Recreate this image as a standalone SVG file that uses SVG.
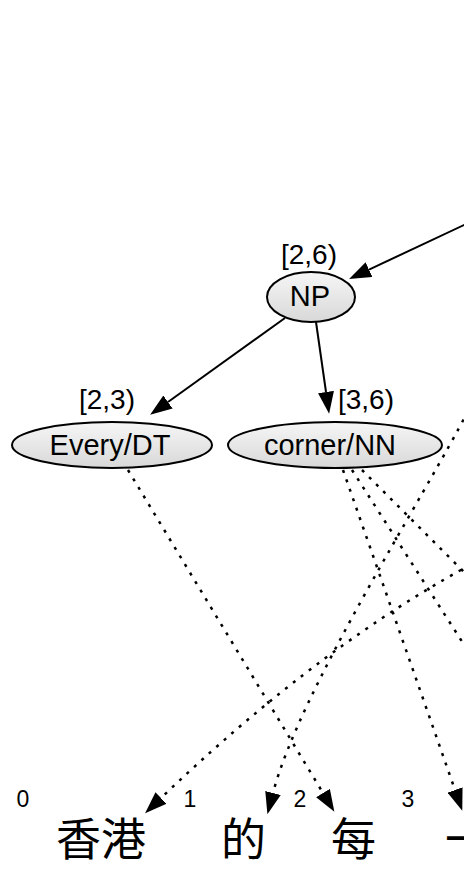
<svg xmlns="http://www.w3.org/2000/svg" width="464" height="869" viewBox="0 0 464 869">
<style>
.node ellipse{fill:url(#g);stroke:#000;stroke-width:2}
.nt{font-family:"Liberation Sans",Arial,sans-serif;font-size:29px;fill:#000;text-anchor:middle}
.lb{font-family:"Liberation Sans",Arial,sans-serif;font-size:28px;fill:#000;text-anchor:middle}
.ix{font-family:"Liberation Sans",Arial,sans-serif;font-size:23px;fill:#000;text-anchor:middle}
.zh{font-family:"Noto Sans CJK SC","Noto Sans CJK TC",sans-serif;font-size:45px;fill:#000}
.solid{fill:none;stroke:#000;stroke-width:2;marker-end:url(#ah)}
.dot{fill:none;stroke:#000;stroke-width:2.5;stroke-dasharray:3 7;marker-end:url(#ah)}
.dotn{fill:none;stroke:#000;stroke-width:2.5;stroke-dasharray:3 7}
</style>
<defs>
<linearGradient id="g" x1="0" y1="0" x2="0" y2="1">
<stop offset="0" stop-color="#f6f6f6"/>
<stop offset="1" stop-color="#d8d8d8"/>
</linearGradient>
<marker id="ah" markerUnits="userSpaceOnUse" markerWidth="22" markerHeight="16" viewBox="0 0 22 16" refX="0" refY="8" orient="auto">
<path d="M0,0 L22,8 L0,16 z" fill="#000" stroke="none"/>
</marker>
</defs>
<rect width="464" height="869" fill="#fff"/>
<g id="connectors">
<path class="solid" d="M470,222.2 L369,269.6"/>
<path class="solid" d="M285,318 L168,402"/>
<path class="solid" d="M316,322 L326,392"/>
<path class="dot" d="M128,470 L323,793"/>
<path class="dot" d="M343,470 L455,790"/>
<path class="dotn" d="M352,470 L470,654"/>
<path class="dotn" d="M362,470 L470,578"/>
<path class="dot" d="M470,565 C406,600 300,665 161,798"/>
<path class="dot" d="M468,411 C425,495 300,690 273,793"/>
</g>
<g id="NP" class="node">
<ellipse cx="311" cy="297" rx="44" ry="25"/>
<text class="nt" x="310" y="306">NP</text>
<text class="lb" x="309" y="264">[2,6)</text>
</g>
<g id="Every" class="node">
<ellipse cx="112" cy="445" rx="100" ry="23"/>
<text class="nt" x="110" y="455">Every/DT</text>
<text class="lb" x="107" y="409">[2,3)</text>
</g>
<g id="corner" class="node">
<ellipse cx="335" cy="445" rx="107" ry="23"/>
<text class="nt" x="330" y="455">corner/NN</text>
<text class="lb" x="366" y="409">[3,6)</text>
</g>
<g id="indices">
<text class="ix" x="23" y="807">0</text>
<text class="ix" x="190" y="807">1</text>
<text class="ix" x="300" y="807">2</text>
<text class="ix" x="408" y="807">3</text>
</g>
<g id="words">
<text class="zh" x="56" y="856">香港</text>
<text class="zh" x="221" y="856">的</text>
<text class="zh" x="331" y="856">每</text>
<text class="zh" x="445" y="856">一</text>
</g>
</svg>
